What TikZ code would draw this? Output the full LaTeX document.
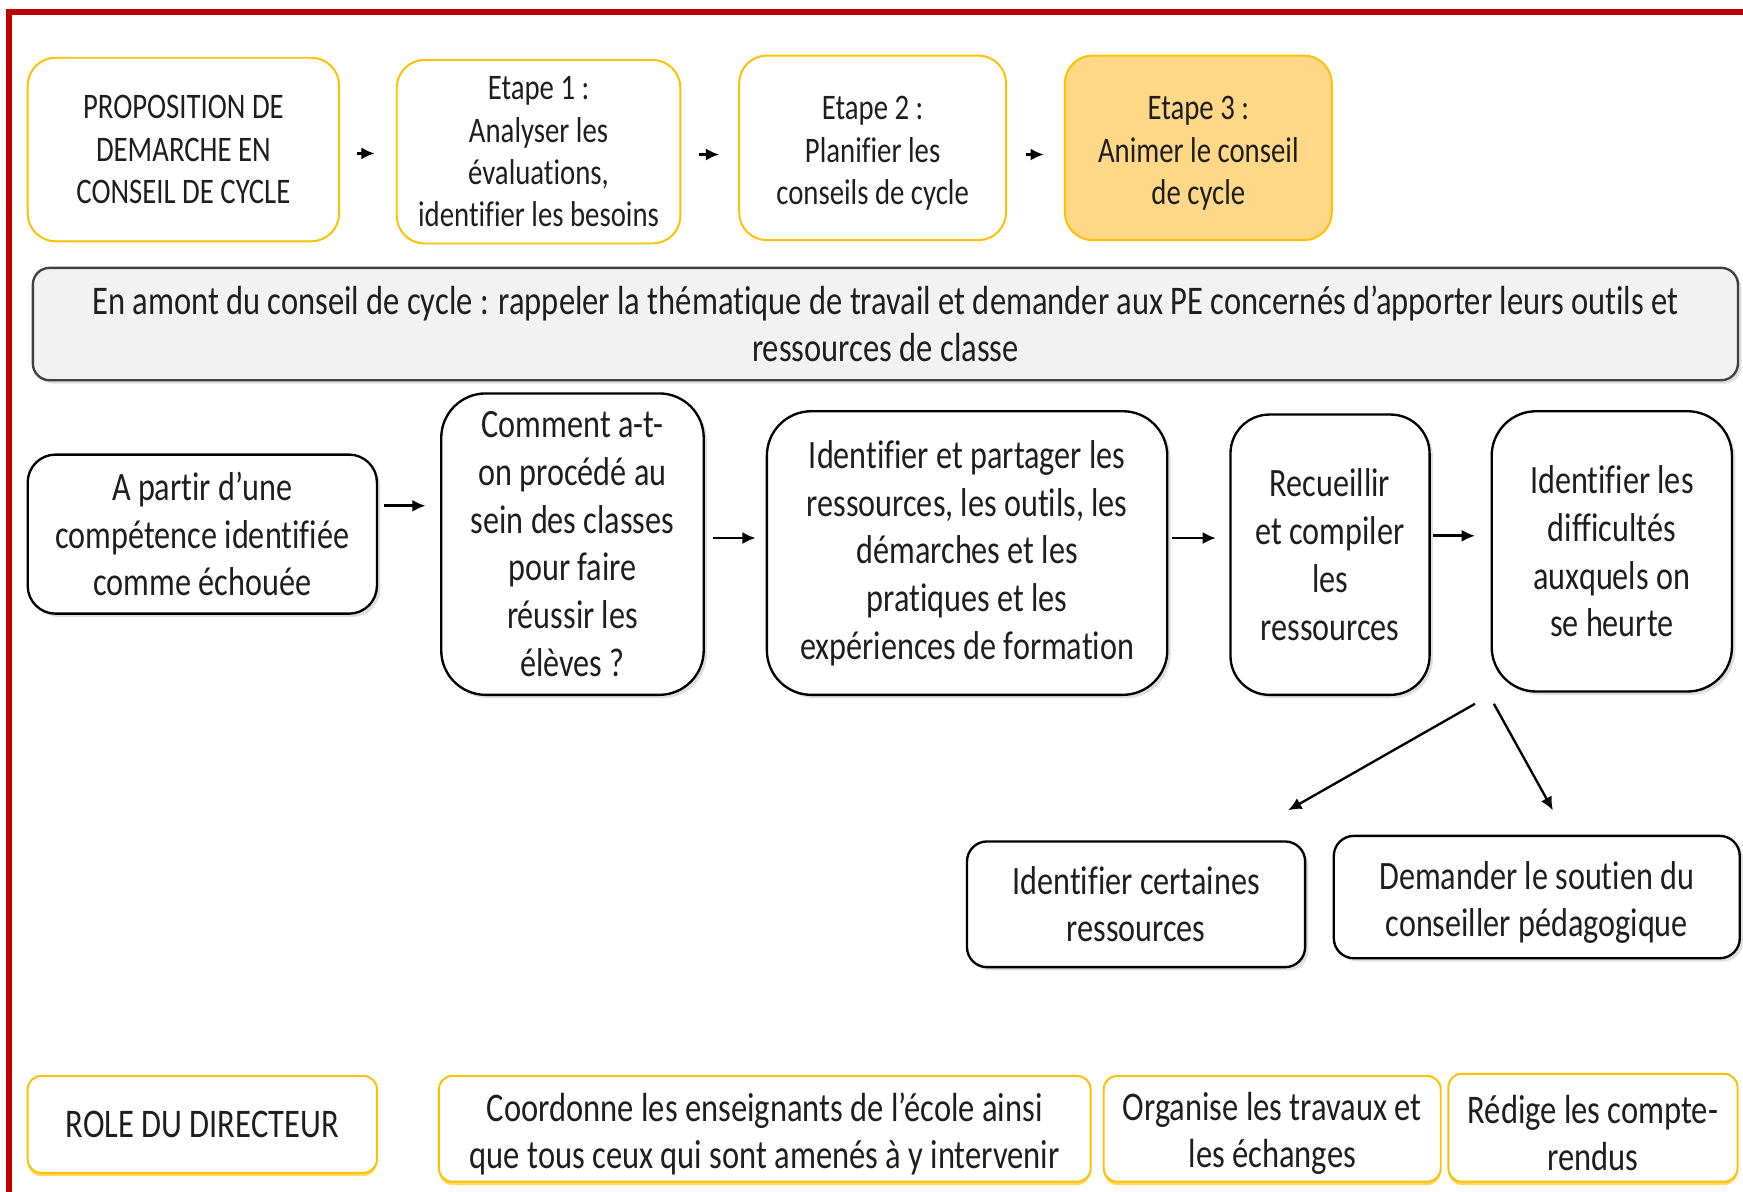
\documentclass[tikz,border=0pt]{standalone}
\usepackage{fontspec}
\setmainfont[FakeStretch=0.8, Ligatures={NoCommon}]{Carlito}
\usetikzlibrary{arrows.meta}
\usetikzlibrary{calc,shadows}
\definecolor{cadre}{RGB}{192,0,0}
\definecolor{orangeline}{RGB}{255,192,0}
\definecolor{orangefill}{RGB}{255,216,135}
\definecolor{bandfill}{RGB}{242,242,242}
\definecolor{bandline}{RGB}{64,64,64}
\definecolor{textcol}{RGB}{30,30,30}
\tikzset{
    etapebox/.style={draw=orangeline, line width=0.5pt, rounded corners=0.25cm,
        align=center, inner sep=0pt, text=textcol,
        font=\fontsize{9.2}{10.8}\selectfont},
    bandbox/.style={draw=bandline, fill=bandfill, line width=0.6pt, rounded corners=0.15cm,
        align=center, inner sep=0pt, text=textcol,
        drop shadow={shadow xshift=0.03cm, shadow yshift=-0.03cm, opacity=0.25},
        font=\fontsize{10.4}{12}\selectfont},
    flowbox/.style={draw=black, fill=white, line width=0.6pt, rounded corners=0.35cm,
        align=center, inner sep=0pt, text=textcol,
        drop shadow={shadow xshift=0.03cm, shadow yshift=-0.03cm, opacity=0.25},
        font=\fontsize{10.3}{12.2}\selectfont},
    rolebox/.style={draw=orangeline, fill=white, line width=0.5pt, rounded corners=0.12cm,
        align=center, inner sep=0pt, text=textcol,
        drop shadow={shadow xshift=0cm, shadow yshift=-0.03cm, fill=orangeline, opacity=0.6},
        font=\fontsize{10.4}{12}\selectfont},
    flow/.style={-{Latex[length=0.12cm,width=0.11cm]}, line width=0.7pt}
}
\begin{document}
\begin{tikzpicture}[x=0.01cm, y=-0.01cm]
    \useasboundingbox (0,0) rectangle (1568,1072);
    \draw [cadre, line width=0.05cm] (8,1090) -- (8,11) -- (1590,11);   % red frame

    % the four steps
    \node [etapebox, minimum width=2.80cm, minimum height=1.65cm] (prop) at (165,134.5)
        {PROPOSITION DE\\DEMARCHE EN\\CONSEIL DE CYCLE};
    \node [etapebox, minimum width=2.55cm, minimum height=1.65cm] (etape1) at (484.5,136.5)
        {Etape 1 :\\Analyser les\\évaluations,\\identifier les besoins};
    \node [etapebox, minimum width=2.40cm, minimum height=1.66cm] (etape2) at (785,133)
        {\\[-0.07cm]Etape 2 :\\Planifier les\\conseils de cycle};
    \node [etapebox, fill=orangefill, minimum width=2.40cm, minimum height=1.66cm] (etape3) at (1078,133)
        {\\[-0.07cm]Etape 3 :\\Animer le conseil\\de cycle};

    \draw [flow, shorten <=0.15cm, shorten >=0.19cm] ([yshift=-0.035cm]prop.east) -- ([yshift=-0.035cm]prop.east -| etape1.west);
    \draw [flow, shorten <=0.16cm, shorten >=0.17cm] ([yshift=-0.025cm]etape1.east) -- ([yshift=-0.025cm]etape1.east -| etape2.west);
    \draw [flow, shorten <=0.17cm, shorten >=0.18cm] ([yshift=-0.06cm]etape2.east) -- ([yshift=-0.06cm]etape2.east -| etape3.west);

    % banner
    \node [bandbox, minimum width=15.33cm, minimum height=1.01cm] (amont) at (796.5,291.5)
        {En amont du conseil de cycle : rappeler la thématique de travail et demander aux PE concernés d’apporter leurs outils et\\ressources de classe};

    % the process
    \node [flowbox, rounded corners=0.25cm, minimum width=3.14cm, minimum height=1.43cm] (apartir) at (182,480.5)
        {A partir d’une\\compétence identifiée\\comme échouée};
    \node [flowbox, rounded corners=0.4cm, minimum width=2.36cm, minimum height=2.71cm] (comment) at (515,489.5)
        {Comment a-t-\\on procédé au\\sein des classes\\pour faire\\réussir les\\élèves ?};
    \node [flowbox, rounded corners=0.4cm, minimum width=3.60cm, minimum height=2.55cm] (partage) at (870,497.5)
        {Identifier et partager les\\ressources, les outils, les\\démarches et les\\pratiques et les\\expériences de formation};
    \node [flowbox, minimum width=1.79cm, minimum height=2.52cm] (recueil) at (1196.5,499)
        {Recueillir\\et compiler\\les\\ressources};
    \node [flowbox, rounded corners=0.4cm, minimum width=2.16cm, minimum height=2.52cm] (diff) at (1450,496)
        {Identifier les\\difficultés\\auxquels on\\se heurte};

    \draw [flow, shorten <=0.05cm, shorten >=0.13cm] ([yshift=0.255cm]apartir.east) -- ([yshift=0.255cm]apartir.east -| comment.west);
    \draw [flow, shorten <=0.07cm, shorten >=0.09cm] ([yshift=0.055cm]comment.east) -- ([yshift=0.055cm]comment.east -| partage.west);
    \draw [flow, shorten <=0.03cm, shorten >=0.12cm] ([yshift=0.135cm]partage.east) -- ([yshift=0.135cm]partage.east -| recueil.west);
    \draw [flow, shorten <=0.02cm, shorten >=0.14cm] ([yshift=0.17cm]recueil.east) -- ([yshift=0.17cm]recueil.east -| diff.west);

    \node [flowbox, rounded corners=0.18cm, minimum width=3.04cm, minimum height=1.13cm] (certaines) at (1022,813.5)
        {Identifier certaines\\ressources};
    \node [flowbox, rounded corners=0.18cm, minimum width=3.65cm, minimum height=1.10cm] (soutien) at (1382.5,807)
        {\\[-0.08cm]Demander le soutien du\\conseiller pédagogique};

    \draw [flow, line width=0.6pt] ([shift={(-14,10)}]diff.south west) -- ([shift={(290,-27)}]certaines.north west);
    \draw [flow, line width=0.6pt] ([shift={(3,10)}]diff.south west) -- ([shift={(14.5,-22)}]soutien.north);

    % role of the head teacher
    \node [rolebox, minimum width=3.14cm, minimum height=0.87cm] (role) at (182,1011.5)
        {ROLE DU DIRECTEUR};
    \node [rolebox, minimum width=5.86cm, minimum height=0.95cm] (coord) at (688,1015.5)
        {\\[-0.08cm]Coordonne les enseignants de l’école ainsi\\que tous ceux qui sont amenés à y intervenir};
    \node [rolebox, minimum width=3.03cm, minimum height=0.95cm] (organise) at (1144.5,1015.5)
        {\\[-0.08cm]Organise les travaux et\\les échanges};
    \node [rolebox, minimum width=2.60cm, minimum height=0.97cm] (redige) at (1433,1014.5)
        {\\[-0.08cm]Rédige les compte-\\rendus};
\end{tikzpicture}
\end{document}
